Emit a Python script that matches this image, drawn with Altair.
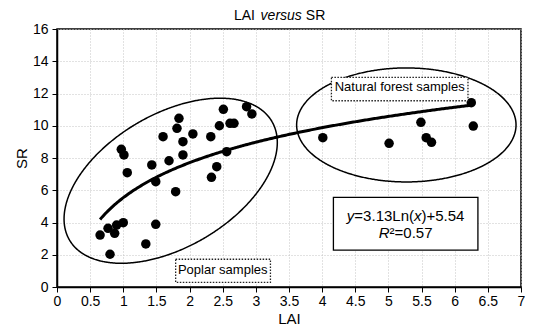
import math
import altair as alt
import pandas as pd

# ---- data ----
lai_poplar = [0.65, 0.80, 0.77, 0.87, 0.90, 1.00, 0.97, 1.01, 1.06, 1.34, 1.43, 1.49, 1.49,
              1.60, 1.69, 1.79, 1.81, 1.84, 1.90, 1.90, 2.05, 2.32, 2.33, 2.41, 2.45, 2.51,
              2.56, 2.61, 2.67, 2.86, 2.94]
sr_poplar = [3.22, 2.03, 3.64, 3.33, 3.84, 3.99, 8.54, 8.19, 7.09, 2.67, 7.57, 6.53, 3.89,
             9.32, 7.83, 5.91, 9.84, 10.46, 9.01, 8.19, 9.49, 9.32, 6.80, 7.46, 10.00, 11.02,
             8.39, 10.15, 10.15, 11.18, 10.73]
lai_forest = [4.01, 5.01, 5.49, 5.57, 5.65, 6.25, 6.28]
sr_forest = [9.26, 8.91, 10.21, 9.26, 8.97, 11.43, 9.98]

# fitted equation shown on the chart
FIT_A, FIT_B = 3.13, 5.54
FIT_MIN, FIT_MAX = 0.65, 6.27

x_ticks = [0, 0.5, 1, 1.5, 2, 2.5, 3, 3.5, 4, 4.5, 5, 5.5, 6, 6.5, 7]
y_ticks = [0, 2, 4, 6, 8, 10, 12, 14, 16]

# ---- layout ----
W, H = 464, 258
X_MAX, Y_MAX = 7, 16
PXX = W / X_MAX
PXY = H / Y_MAX
FONT = "Liberation Sans"

# ellipse annotations (centre in data units, semi-axes in pixels, tilt in degrees)
P_CX, P_CY, P_A, P_B, P_TH = 1.715, 6.59, 117.3, 66.5, 30.4
N_CX, N_CY, N_A, N_B, N_TH = 5.27, 10.05, 109.7, 57.0, 0.0

xs = alt.Scale(domain=[0, X_MAX], nice=False, zero=False)
ys = alt.Scale(domain=[0, Y_MAX], nice=False, zero=False)
x_axis = alt.Axis(values=x_ticks, format="~g", labelFlush=False, labelPadding=2,
                  titlePadding=3, grid=True)
y_axis = alt.Axis(values=y_ticks, format="~g", labelFlush=False, labelPadding=4,
                  titlePadding=3, grid=True)


def X(field):
    return alt.X(field, type="quantitative", scale=xs, axis=x_axis, title="LAI")


def Y(field):
    return alt.Y(field, type="quantitative", scale=ys, axis=y_axis, title="SR")


points_df = pd.DataFrame({"LAI": lai_poplar + lai_forest, "SR": sr_poplar + sr_forest})


def ellipse(cx, cy, a, b, th):
    c, s = math.cos(math.radians(th)), math.sin(math.radians(th))
    return alt.Chart(alt.sequence(0, 6.3, 0.01, as_="t")).transform_calculate(
        ex=f"{cx} + ({a}*cos(datum.t)*{c} - {b}*sin(datum.t)*{s})/{PXX}",
        ey=f"{cy} + ({a}*cos(datum.t)*{s} + {b}*sin(datum.t)*{c})/{PXY}",
    ).mark_line(color="black", strokeWidth=1.5).encode(
        x=X("ex"), y=Y("ey"), order="t:Q")


poplar_ellipse = ellipse(P_CX, P_CY, P_A, P_B, P_TH)
forest_ellipse = ellipse(N_CX, N_CY, N_A, N_B, N_TH)

trend = alt.Chart(alt.sequence(FIT_MIN, FIT_MAX + 0.001, 0.02, as_="LAI")).transform_calculate(
    SR=f"{FIT_A}*log(datum.LAI)+{FIT_B}"
).mark_line(color="black", strokeWidth=3).encode(x=X("LAI"), y=Y("SR"), order="LAI:Q")

points = alt.Chart(points_df).mark_circle(size=90, color="black", opacity=1).encode(
    x=X("LAI"), y=Y("SR"))

# annotation boxes
label_boxes = pd.DataFrame({
    "x1": [4.14, 1.79], "x2": [6.20, 3.22],
    "y1": [11.55, 0.29], "y2": [13.0, 1.72],
})
eq_box = pd.DataFrame({"x1": [4.17], "x2": [6.35], "y1": [2.29], "y2": [5.56]})

dotted_boxes = alt.Chart(label_boxes).mark_rect(
    fill="white", stroke="#222", strokeWidth=1.3, strokeDash=[1.5, 1.5]
).encode(x=X("x1"), x2="x2", y=Y("y1"), y2="y2")

solid_box = alt.Chart(eq_box).mark_rect(
    fill="white", stroke="black", strokeWidth=1.3
).encode(x=X("x1"), x2="x2", y=Y("y1"), y2="y2")

label_texts = pd.DataFrame({
    "x": [5.17, 2.50], "y": [12.42, 1.05],
    "text": ["Natural forest samples", "Poplar samples"],
})
labels = alt.Chart(label_texts).mark_text(
    font=FONT, fontSize=13, color="black", align="center", baseline="middle"
).encode(x=X("x"), y=Y("y"), text="text:N")

# equation text, segments for italic parts
EQ_X = 5.26
eq_segments = [
    # text, y, dx, italic
    ("y", 4.40, -58.8, True),
    ("=3.13Ln(", 4.40, -51.3, False),
    ("x", 4.40, 8.3, True),
    (")+5.54", 4.40, 15.8, False),
    ("R", 3.37, -26.9, True),
    ("\u00b2=0.57", 3.37, -16.1, False),
]
eq_layers = []
for txt, yy, dx, ital in eq_segments:
    eq_layers.append(
        alt.Chart(pd.DataFrame({"x": [EQ_X], "y": [yy], "text": [txt]})).mark_text(
            font=FONT, fontSize=15, color="black", align="left", baseline="middle",
            dx=dx, fontStyle="italic" if ital else "normal"
        ).encode(x=X("x"), y=Y("y"), text="text:N")
    )

# chart title, segments (pixel positions relative to plot area)
title_segments = [("LAI", 177.0, False), ("versus", 203.6, True), ("SR", 248.8, False)]
title_layers = []
for txt, px, ital in title_segments:
    title_layers.append(
        alt.Chart(pd.DataFrame({"text": [txt]})).mark_text(
            font=FONT, fontSize=14, color="black", align="left", baseline="middle",
            fontStyle="italic" if ital else "normal"
        ).encode(x=alt.value(px), y=alt.value(-13), text="text:N")
    )

chart = alt.layer(
    poplar_ellipse, forest_ellipse, trend, points, dotted_boxes, solid_box, labels,
    *eq_layers, *title_layers
).properties(
    width=W, height=H,
    autosize=alt.AutoSizeParams(type="none"),
    padding={"left": 49, "top": 21, "right": 4, "bottom": 38},
).configure_view(
    stroke="black", strokeWidth=1.5
).configure_axis(
    domainColor="black", domainWidth=1.5, tickColor="black", tickSize=5, tickWidth=1,
    labelFont=FONT, labelFontSize=14, labelColor="black",
    titleFont=FONT, titleFontSize=15, titleFontWeight="normal", titleColor="black",
    gridColor="#c4c4c4", gridDash=[1, 2], gridWidth=1,
)

chart.save("out.html", embed_options={"renderer": "svg", "actions": False})
